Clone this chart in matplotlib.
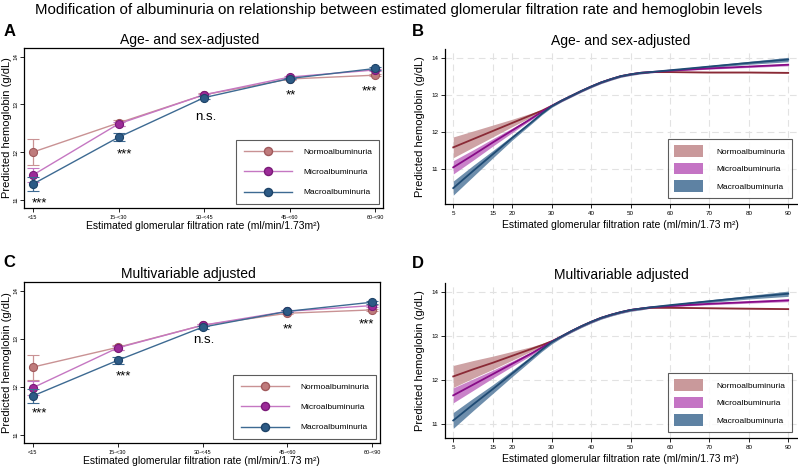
import matplotlib
matplotlib.use("Agg")
import matplotlib.pyplot as plt
from matplotlib.patches import Patch
from matplotlib.lines import Line2D

plt.rcParams['font.family'] = ['Liberation Sans', 'DejaVu Sans']

groups = ["Normoalbuminuria", "Microalbuminuria", "Macroalbuminuria"]
categories = ["<15", "15-<30", "30-<45", "45-<60", "60-<90"]

# panel A: age- and sex-adjusted, by eGFR category
a_normo = [12.00, 12.61, 13.20, 13.53, 13.61]
a_normo_err = [0.27, 0.07, 0.03, 0.02, 0.02]
a_micro = [11.52, 12.59, 13.20, 13.57, 13.72]
a_micro_err = [0.14, 0.05, 0.02, 0.02, 0.02]
a_macro = [11.33, 12.31, 13.14, 13.54, 13.75]
a_macro_err = [0.15, 0.08, 0.03, 0.02, 0.03]
a_sig = ["***", "***", "n.s.", "**", "***"]
a_sig_y = [10.93, 11.96, 12.74, 13.18, 13.27]

# panel C: multivariable adjusted, by eGFR category
c_normo = [12.41, 12.82, 13.28, 13.53, 13.60]
c_normo_err = [0.26, 0.05, 0.02, 0.02, 0.02]
c_micro = [11.98, 12.81, 13.28, 13.57, 13.69]
c_micro_err = [0.15, 0.04, 0.02, 0.02, 0.02]
c_macro = [11.81, 12.55, 13.24, 13.57, 13.76]
c_macro_err = [0.14, 0.08, 0.03, 0.02, 0.03]
c_sig = ["***", "***", "n.s.", "**", "***"]
c_sig_y = [11.44, 12.22, 12.97, 13.20, 13.30]

# panels B and D: continuous eGFR
egfr = [5, 10, 15, 20, 25, 27.5, 30, 32.5, 35, 37.5, 40, 42.5, 45, 47.5, 50, 52.5, 55, 60, 70, 80, 90]

b_normo = [11.59, 11.81, 12.03, 12.25, 12.47, 12.58, 12.71, 12.85, 12.98, 13.11, 13.23, 13.34, 13.43, 13.51, 13.56, 13.60, 13.62, 13.62, 13.61, 13.61, 13.60]
b_normo_hw = [0.28, 0.22, 0.16, 0.10, 0.05, 0.03, 0.02, 0.02, 0.02, 0.02, 0.02, 0.02, 0.02, 0.02, 0.02, 0.01, 0.01, 0.01, 0.01, 0.01, 0.01]
b_micro = [11.05, 11.38, 11.72, 12.05, 12.38, 12.55, 12.71, 12.85, 12.98, 13.11, 13.23, 13.34, 13.43, 13.51, 13.56, 13.60, 13.62, 13.66, 13.72, 13.77, 13.82]
b_micro_hw = [0.18, 0.14, 0.10, 0.06, 0.03, 0.02, 0.02, 0.02, 0.02, 0.02, 0.02, 0.02, 0.02, 0.02, 0.02, 0.02, 0.02, 0.015, 0.02, 0.025, 0.03]
b_macro = [10.49, 10.95, 11.40, 11.85, 12.28, 12.50, 12.70, 12.85, 12.98, 13.11, 13.23, 13.34, 13.43, 13.51, 13.56, 13.60, 13.62, 13.67, 13.77, 13.87, 13.96]
b_macro_hw = [0.19, 0.15, 0.10, 0.06, 0.04, 0.03, 0.03, 0.03, 0.03, 0.03, 0.03, 0.03, 0.03, 0.03, 0.03, 0.03, 0.02, 0.02, 0.03, 0.04, 0.06]

d_normo = [12.07, 12.23, 12.38, 12.54, 12.70, 12.78, 12.87, 12.98, 13.10, 13.21, 13.31, 13.40, 13.47, 13.53, 13.58, 13.61, 13.63, 13.63, 13.62, 13.61, 13.60]
d_normo_hw = [0.25, 0.20, 0.15, 0.10, 0.05, 0.04, 0.03, 0.02, 0.02, 0.02, 0.02, 0.02, 0.02, 0.02, 0.02, 0.01, 0.01, 0.01, 0.01, 0.01, 0.01]
d_micro = [11.64, 11.88, 12.12, 12.36, 12.60, 12.73, 12.86, 12.98, 13.10, 13.21, 13.31, 13.40, 13.47, 13.53, 13.58, 13.61, 13.64, 13.67, 13.72, 13.76, 13.80]
d_micro_hw = [0.17, 0.13, 0.09, 0.06, 0.04, 0.03, 0.02, 0.02, 0.02, 0.02, 0.02, 0.02, 0.02, 0.02, 0.02, 0.02, 0.02, 0.015, 0.02, 0.025, 0.03]
d_macro = [11.07, 11.43, 11.78, 12.14, 12.50, 12.68, 12.85, 12.98, 13.10, 13.21, 13.31, 13.40, 13.47, 13.53, 13.58, 13.61, 13.64, 13.69, 13.78, 13.87, 13.95]
d_macro_hw = [0.18, 0.14, 0.10, 0.07, 0.05, 0.04, 0.04, 0.03, 0.03, 0.03, 0.03, 0.03, 0.03, 0.03, 0.03, 0.03, 0.02, 0.02, 0.03, 0.04, 0.06]

egfr_ticks = [5, 15, 20, 30, 40, 50, 60, 70, 80, 90]

marker_fc = ["#bf7b7c", "#9c2b98", "#2d5b86"]
marker_ec = ["#a05a5c", "#7a1a78", "#1e4368"]
line_c = ["#c99294", "#c577c2", "#3d6a92"]
curve_c = ["#8a2a36", "#870b87", "#1f4b74"]
band_c = ["#c9999b", "#c474c4", "#5e82a3"]

ylab = "Predicted hemoglobin (g/dL)"

fig = plt.figure(figsize=(7.98, 4.68), dpi=100)
fig.text(0.5, 0.978, "Modification of albuminuria on relationship between estimated glomerular "
         "filtration rate and hemoglobin levels", ha='center', va='center', fontsize=10.8)


def cat_panel(rect, title, series, errs, sig, sig_y, letter, letter_y, xlab):
    ax = fig.add_axes(rect)
    xs = list(range(len(categories)))
    for i in range(3):
        ax.errorbar(xs, series[i], yerr=errs[i], color=line_c[i], lw=1.0,
                    marker='o', ms=5.8, mfc=marker_fc[i], mec=marker_ec[i], mew=0.8,
                    capsize=4, elinewidth=0.9, capthick=0.9, ecolor=line_c[i], zorder=3 + i)
    offs = [0.08, 0.07, 0.02, 0.01, -0.07]
    for i, s in enumerate(sig):
        ax.text(xs[i] + offs[i], sig_y[i], s, ha='center', va='center', fontsize=9.5)
    ax.set_xlim(-0.105, 4.09)
    ax.set_ylim(10.83, 14.18)
    ax.set_xticks(xs)
    ax.set_xticklabels(categories, fontsize=4)
    ax.set_yticks([11, 12, 13, 14])
    ax.set_yticklabels(["11", "12", "13", "14"], fontsize=4.5, rotation=90, va='center')
    ax.tick_params(axis='x', length=3, width=0.6, pad=2)
    ax.tick_params(axis='y', length=3, width=0.6, pad=1)
    for sp in ax.spines.values():
        sp.set_linewidth(0.9)
    ax.set_xlabel(xlab, fontsize=7.5, labelpad=1)
    ax.set_ylabel(ylab, fontsize=8, labelpad=1)
    ax.set_title(title, fontsize=10, pad=3, x=0.462)
    handles = [Line2D([], [], color=line_c[i], lw=1.0, marker='o', ms=5.8,
                      mfc=marker_fc[i], mec=marker_ec[i]) for i in range(3)]
    leg = ax.legend(handles, groups, loc='lower right', bbox_to_anchor=(0.99, 0.025),
                    fontsize=6, frameon=True, fancybox=False, handlelength=5.8,
                    handletextpad=1.3, labelspacing=1.5, borderpad=0.9, borderaxespad=0)
    leg.get_frame().set_edgecolor('#333333')
    leg.get_frame().set_linewidth(0.8)
    fig.text(0.004, letter_y, letter, fontsize=12, fontweight='bold', va='center')
    return ax


def cont_panel(rect, title, centers, hws, ylim, letter, letter_y):
    ax = fig.add_axes(rect)
    for i in range(3):
        lo = [c - h for c, h in zip(centers[i], hws[i])]
        hi = [c + h for c, h in zip(centers[i], hws[i])]
        ax.fill_between(egfr, lo, hi, color=band_c[i], alpha=0.9, lw=0, zorder=2 + i)
    for i in range(3):
        ax.plot(egfr, centers[i], color=curve_c[i], lw=1.3, zorder=6 + i)
    ax.set_xlim(2.9, 92.2)
    ax.set_ylim(*ylim)
    ax.set_xticks(egfr_ticks)
    ax.set_yticks([11, 12, 13, 14])
    ax.tick_params(labelsize=4.5, length=3, width=0.6, pad=2)
    ax.grid(True, color='#e2e2e2', lw=0.8, ls=(0, (6, 4)))
    ax.set_axisbelow(True)
    ax.spines['top'].set_visible(False)
    ax.spines['right'].set_visible(False)
    for sp in ['left', 'bottom']:
        ax.spines[sp].set_linewidth(0.9)
    ax.set_xlabel("Estimated glomerular filtration rate (ml/min/1.73 m\u00b2)", fontsize=7.5, labelpad=3)
    ax.set_ylabel(ylab, fontsize=8, labelpad=4)
    ax.set_title(title, fontsize=10, pad=3)
    handles = [Patch(facecolor=band_c[i], edgecolor='none') for i in range(3)]
    leg = ax.legend(handles, groups, loc='lower right', bbox_to_anchor=(0.985, 0.04),
                    fontsize=6, frameon=True, fancybox=False, handlelength=3.5,
                    handleheight=1.7, handletextpad=1.6, labelspacing=0.75,
                    borderpad=0.75, borderaxespad=0)
    leg.get_frame().set_edgecolor('#333333')
    leg.get_frame().set_linewidth(0.8)
    fig.text(0.516, letter_y, letter, fontsize=12, fontweight='bold', va='center')
    return ax


cat_panel([0.030, 0.5556, 0.450, 0.342], "Age- and sex-adjusted",
          [a_normo, a_micro, a_macro], [a_normo_err, a_micro_err, a_macro_err],
          a_sig, a_sig_y, "A", 0.932,
          "Estimated glomerular filtration rate (ml/min/1.73m\u00b2)")
cat_panel([0.030, 0.0534, 0.446, 0.344], "Multivariable adjusted",
          [c_normo, c_micro, c_macro], [c_normo_err, c_micro_err, c_macro_err],
          c_sig, c_sig_y, "C", 0.440,
          "Estimated glomerular filtration rate (ml/min/1.73 m\u00b2)")
cont_panel([0.5576, 0.564, 0.441, 0.331], "Age- and sex-adjusted",
           [b_normo, b_micro, b_macro], [b_normo_hw, b_micro_hw, b_macro_hw],
           (10.06, 14.24), "B", 0.932)
cont_panel([0.5576, 0.064, 0.441, 0.331], "Multivariable adjusted",
           [d_normo, d_micro, d_macro], [d_normo_hw, d_micro_hw, d_macro_hw],
           (10.67, 14.19), "D", 0.436)

fig.savefig("out.png", dpi=100)
